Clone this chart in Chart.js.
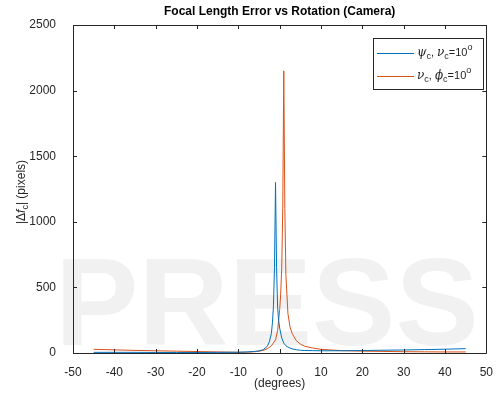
<!DOCTYPE html>
<html>
<head>
<meta charset="utf-8">
<script src="https://cdn.jsdelivr.net/npm/chart.js@4"></script>
<style>
  body { margin: 0; background: #fff; }
  #c { display: block; }
</style>
</head>
<body>
<canvas id="c" width="497" height="398"></canvas>
<script>
"use strict";

// rotation angle (degrees) and focal length error (pixels)
const blueX = [-45, -40, -35, -30, -25, -20, -15, -10, -8, -6, -5, -4, -3, -2.5, -2, -1.75, -1.5, -1.25, -1, -0.75, -0.5, -0.25, 0, 0.5, 1, 1.5, 2, 3, 4, 5, 6, 8, 10, 15, 20, 25, 30, 35, 40, 45];
const blueY = [5, 5, 5, 4, 4, 4, 5, 6, 8, 12, 16, 25, 50, 85, 150, 230, 360, 650, 1300, 650, 350, 250, 190, 115, 75, 55, 45, 32, 25, 21, 19, 18, 17, 17, 19, 21, 23, 26, 29, 33];

const orangeX = [-45, -40, -35, -30, -25, -20, -15, -10, -8, -6, -5, -4, -3, -2, -1, -0.5, 0, 0.25, 0.5, 0.75, 1, 1.25, 1.5, 2, 2.5, 3, 4, 5, 6, 8, 10, 15, 20, 25, 30, 35, 40, 45];
const orangeY = [28, 24, 20, 17, 14, 11, 8, 5, 6, 10, 14, 20, 32, 55, 100, 170, 330, 450, 650, 1100, 2150, 1100, 600, 300, 200, 150, 95, 68, 52, 38, 28, 18, 14, 12, 10, 9, 8, 8];

const xTicks = [-50, -40, -30, -20, -10, 0, 10, 20, 30, 40, 50];
const yTicks = [0, 500, 1000, 1500, 2000, 2500];

const titleText = "Focal Length Error vs Rotation (Camera)";
const xLabel = "(degrees)";

const axisColor = "#262626";
const fontFam = "'Liberation Sans', Arial, Helvetica, sans-serif";

function pts(xs, ys) {
  return xs.map((x, i) => ({ x: x, y: ys[i] }));
}

// draws text pieces one after another: [text, font, dy]
function drawRuns(ctx, runs, x, y) {
  let cx = x;
  runs.forEach(r => {
    ctx.font = r[1];
    ctx.fillText(r[0], cx, y + (r[2] || 0));
    cx += ctx.measureText(r[0]).width;
  });
  return cx;
}
function runsWidth(ctx, runs) {
  let w = 0;
  runs.forEach(r => { ctx.font = r[1]; w += ctx.measureText(r[0]).width; });
  return w;
}

const decor = {
  id: "decor",
  beforeDraw(chart) {
    const ctx = chart.ctx;
    ctx.save();
    ctx.fillStyle = "#fff";
    ctx.fillRect(0, 0, chart.width, chart.height);
    // faint watermark
    ctx.fillStyle = "#f1f1f1";
    ctx.font = "bold 125px " + fontFam;
    ctx.textBaseline = "alphabetic";
    ctx.fillText("PRESS", 55, 345);
    ctx.restore();
  },
  afterDraw(chart) {
    const ctx = chart.ctx;
    const a = chart.chartArea;
    const xs = chart.scales.x, ys = chart.scales.y;
    ctx.save();
    ctx.strokeStyle = axisColor;
    ctx.lineWidth = 1;
    ctx.beginPath();
    ctx.rect(Math.round(a.left) + 0.5, Math.round(a.top) + 0.5, Math.round(a.right - a.left), Math.round(a.bottom - a.top));
    ctx.stroke();
    const tl = 4;
    ctx.beginPath();
    xTicks.forEach(v => {
      const p = Math.round(xs.getPixelForValue(v)) + 0.5;
      ctx.moveTo(p, a.bottom); ctx.lineTo(p, a.bottom - tl);
      ctx.moveTo(p, a.top); ctx.lineTo(p, a.top + tl);
    });
    yTicks.forEach(v => {
      const p = Math.round(ys.getPixelForValue(v)) + 0.5;
      ctx.moveTo(a.left, p); ctx.lineTo(a.left + tl, p);
      ctx.moveTo(a.right, p); ctx.lineTo(a.right - tl, p);
    });
    ctx.stroke();

    // title
    ctx.fillStyle = "#000";
    ctx.textAlign = "center";
    ctx.textBaseline = "middle";
    ctx.font = "bold 12px " + fontFam;
    ctx.fillText(titleText, (a.left + a.right) / 2, 12);

    // x label
    ctx.fillStyle = axisColor;
    ctx.font = "12px " + fontFam;
    ctx.fillText(xLabel, (a.left + a.right) / 2, 384);

    // y label with subscript
    const f11 = "12px " + fontFam;
    const fi = "italic 12px " + fontFam;
    const f8 = "9px " + fontFam;
    const yRuns = [["|\u0394", f11], ["f", fi], ["c", f8, 4], ["| (pixels)", f11]];
    ctx.save();
    ctx.translate(22, 192);
    ctx.rotate(-Math.PI / 2);
    ctx.textAlign = "left";
    ctx.textBaseline = "middle";
    drawRuns(ctx, yRuns, -runsWidth(ctx, yRuns) / 2, 0);
    ctx.restore();

    // legend
    ctx.fillStyle = "#fff";
    ctx.fillRect(373.5, 38.5, 110, 51);
    ctx.strokeStyle = axisColor;
    ctx.lineWidth = 1;
    ctx.strokeRect(373.5, 38.5, 110, 51);
    const gi = "italic 12px 'DejaVu Serif', serif";
    const s11 = "11px " + fontFam;
    const leg = [
      { color: "#0072BD", y: 53, runs: [["\u03C8", gi], ["c", f8, 4], [", ", s11], ["\u03BD", gi], ["c", f8, 4], ["=10", s11], ["o", f8, -5]] },
      { color: "#D95319", y: 76, runs: [["\u03BD", gi], ["c", f8, 4], [", ", s11], ["\u03D5", gi], ["c", f8, 4], ["=10", s11], ["o", f8, -5]] }
    ];
    leg.forEach(e => {
      ctx.strokeStyle = e.color;
      ctx.beginPath();
      ctx.moveTo(377, e.y + 0.5);
      ctx.lineTo(414, e.y + 0.5);
      ctx.stroke();
      ctx.fillStyle = axisColor;
      ctx.textAlign = "left";
      ctx.textBaseline = "middle";
      drawRuns(ctx, e.runs, 417, e.y);
    });
    ctx.restore();
  }
};

new Chart(document.getElementById("c"), {
  type: "scatter",
  data: {
    datasets: [
      { data: pts(blueX, blueY), showLine: true, borderColor: "#0072BD", borderWidth: 1, pointRadius: 0, tension: 0, fill: false },
      { data: pts(orangeX, orangeY), showLine: true, borderColor: "#D95319", borderWidth: 1, pointRadius: 0, tension: 0, fill: false }
    ]
  },
  options: {
    responsive: false,
    animation: false,
    devicePixelRatio: 1,
    layout: { padding: { left: 0, right: 8, top: 25, bottom: 0 } },
    plugins: { legend: { display: false }, tooltip: { enabled: false }, title: { display: false } },
    scales: {
      x: {
        type: "linear", min: -50, max: 50,
        afterFit: s => { s.height = 45; },
        afterBuildTicks: s => { s.ticks = xTicks.map(v => ({ value: v })); },
        grid: { display: false },
        border: { display: false },
        ticks: { color: axisColor, padding: 4, maxRotation: 0, font: { size: 12, family: fontFam }, callback: v => String(v) }
      },
      y: {
        type: "linear", min: 0, max: 2500,
        afterFit: s => { s.width = 73; },
        afterBuildTicks: s => { s.ticks = yTicks.map(v => ({ value: v })); },
        grid: { display: false },
        border: { display: false },
        ticks: { color: axisColor, padding: 9, font: { size: 12, family: fontFam }, callback: v => String(v) }
      }
    }
  },
  plugins: [decor]
});
</script>
</body>
</html>
